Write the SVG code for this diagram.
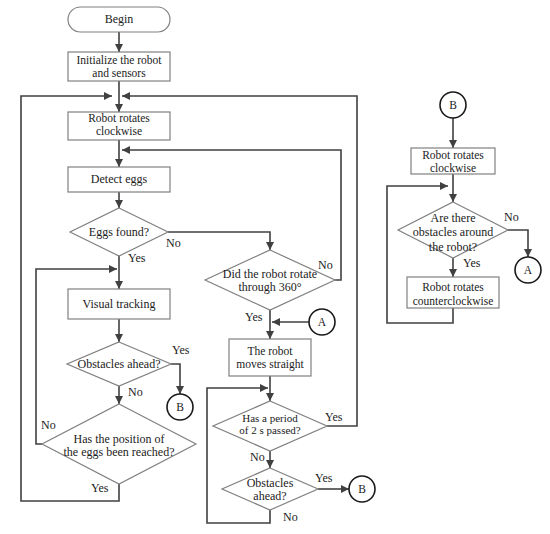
<svg xmlns="http://www.w3.org/2000/svg" width="550" height="534" viewBox="0 0 550 534">
<defs>
<marker id="ah" viewBox="0 0 10 10" refX="10" refY="5" markerWidth="8" markerHeight="8" markerUnits="userSpaceOnUse" orient="auto">
<path d="M0,0 L10,5 L0,10 z" fill="#404040"/>
</marker>
<style>
.box{fill:#fff;stroke:#808080;stroke-width:1.2}
.circ{fill:#fff;stroke:#1a1a1a;stroke-width:1.6}
.ln{fill:none;stroke:#404040;stroke-width:1.6}
.ar{fill:none;stroke:#404040;stroke-width:1.6;marker-end:url(#ah)}
text{font-family:"Liberation Serif","Times New Roman",serif;font-size:12px;fill:#222}
.c{text-anchor:middle}
.lt{font-size:11.5px}
.sm{font-size:11px}
</style>
</defs>
<rect width="550" height="534" fill="#fff"/>

<g id="connectors">
<line class="ar" x1="119" y1="32" x2="119" y2="52"/>
<line class="ar" x1="119" y1="81" x2="119" y2="112"/>
<line class="ar" x1="119" y1="140" x2="119" y2="167"/>
<line class="ar" x1="119" y1="192" x2="119" y2="208"/>
<line class="ar" x1="119" y1="255" x2="119" y2="289"/>
<line class="ar" x1="119" y1="319" x2="119" y2="342"/>
<polyline class="ar" points="171,364 180,364 180,394"/>
<line class="ar" x1="119" y1="386" x2="119" y2="404"/>
<polyline class="ar" points="42,444 36,444 36,269 117,269"/>
<polyline class="ar" points="119,484 119,501 21,501 21,96 112,96"/>
<polyline class="ar" points="168,232 270,232 270,250"/>
<polyline class="ar" points="335,280 341,280 341,150 122,150"/>
<line class="ar" x1="270" y1="310" x2="270" y2="339"/>
<line class="ar" x1="309" y1="322" x2="272" y2="322"/>
<line class="ar" x1="270" y1="376" x2="270" y2="401"/>
<polyline class="ar" points="327,426 357,426 357,96 122,96"/>
<line class="ar" x1="270" y1="451" x2="270" y2="468"/>
<line class="ar" x1="318" y1="489" x2="349" y2="489"/>
<polyline class="ar" points="270,510 270,523 207,523 207,388 268,388"/>
<line class="ar" x1="453" y1="118" x2="453" y2="148"/>
<line class="ar" x1="453" y1="174" x2="453" y2="202"/>
<polyline class="ar" points="507,230 528,230 528,257"/>
<line class="ar" x1="453" y1="258" x2="453" y2="277"/>
<polyline class="ar" points="453,308 453,323 387,323 387,186 448,186"/>
</g>

<g id="labels">
<text x="166" y="247">No</text>
<text x="128" y="262">Yes</text>
<text x="172" y="354">Yes</text>
<text x="128" y="396">No</text>
<text x="41" y="429">No</text>
<text x="91" y="492">Yes</text>
<text x="318" y="269">No</text>
<text x="245" y="321">Yes</text>
<text x="325" y="421">Yes</text>
<text x="250" y="461">No</text>
<text x="315" y="482">Yes</text>
<text x="283" y="521">No</text>
<text x="504" y="221">No</text>
<text x="463" y="267">Yes</text>
</g>

<g id="begin">
<rect class="box" x="68" y="7" width="102" height="25" rx="12.5"/>
<text class="c" x="119" y="23">Begin</text>
</g>
<g id="init">
<rect class="box" x="68" y="52" width="102" height="29"/>
<text class="c lt" x="119" y="63.5">Initialize the robot</text>
<text class="c lt" x="119" y="77">and sensors</text>
</g>
<g id="rotate-cw">
<rect class="box" x="68" y="112" width="102" height="28"/>
<text class="c lt" x="119" y="122">Robot rotates</text>
<text class="c lt" x="119" y="135">clockwise</text>
</g>
<g id="detect">
<rect class="box" x="68" y="167" width="102" height="25"/>
<text class="c" x="119" y="183">Detect eggs</text>
</g>
<g id="eggs-found">
<polygon class="box" points="119,208 168,232 119,256 70,232"/>
<text class="c" x="119" y="236">Eggs found?</text>
</g>
<g id="visual">
<rect class="box" x="68" y="289" width="102" height="30"/>
<text class="c" x="119" y="308">Visual tracking</text>
</g>
<g id="obstacles1">
<polygon class="box" points="119,342 171,364 119,386 67,364"/>
<text class="c" x="119" y="368">Obstacles ahead?</text>
</g>
<g id="b1">
<circle class="circ" cx="180" cy="407" r="13"/>
<text class="c lt" x="180" y="411">B</text>
</g>
<g id="reached">
<polygon class="box" points="119,404 196,444 119,484 42,444"/>
<text class="c" x="119" y="442.5">Has the position of</text>
<text class="c" x="119" y="456">the eggs been reached?</text>
</g>
<g id="rotate360">
<polygon class="box" points="270,250 335,280 270,310 205,280"/>
<text class="c" x="270" y="277.5">Did the robot rotate</text>
<text class="c" x="270" y="291">through 360°</text>
</g>
<g id="a1">
<circle class="circ" cx="322" cy="322" r="13"/>
<text class="c lt" x="322" y="326">A</text>
</g>
<g id="straight">
<rect class="box" x="229" y="339" width="82" height="37"/>
<text class="c lt" x="270" y="355">The robot</text>
<text class="c lt" x="270" y="368">moves straight</text>
</g>
<g id="period">
<polygon class="box" points="270,401 327,426 270,451 213,426"/>
<text class="c sm" x="270" y="422">Has a period</text>
<text class="c sm" x="270" y="434">of 2 s passed?</text>
</g>
<g id="obstacles2">
<polygon class="box" points="270,468 318,489 270,510 222,489"/>
<text class="c" x="270" y="487">Obstacles</text>
<text class="c" x="270" y="500">ahead?</text>
</g>
<g id="b2">
<circle class="circ" cx="362" cy="489" r="13"/>
<text class="c lt" x="362" y="493">B</text>
</g>
<g id="b3">
<circle class="circ" cx="453" cy="105" r="13"/>
<text class="c lt" x="453" y="109">B</text>
</g>
<g id="rotate-cw2">
<rect class="box" x="411" y="148" width="84" height="26"/>
<text class="c lt" x="453" y="159">Robot rotates</text>
<text class="c lt" x="453" y="172">clockwise</text>
</g>
<g id="around">
<polygon class="box" points="453,202 508,230 453,258 398,230"/>
<text class="c" x="453" y="222">Are there</text>
<text class="c" x="453" y="236">obstacles around</text>
<text class="c" x="453" y="251">the robot?</text>
</g>
<g id="a2">
<circle class="circ" cx="528" cy="270" r="13"/>
<text class="c lt" x="528" y="274">A</text>
</g>
<g id="rotate-ccw">
<rect class="box" x="407" y="277" width="92" height="31"/>
<text class="c lt" x="453" y="291">Robot rotates</text>
<text class="c lt" x="453" y="305">counterclockwise</text>
</g>
</svg>
